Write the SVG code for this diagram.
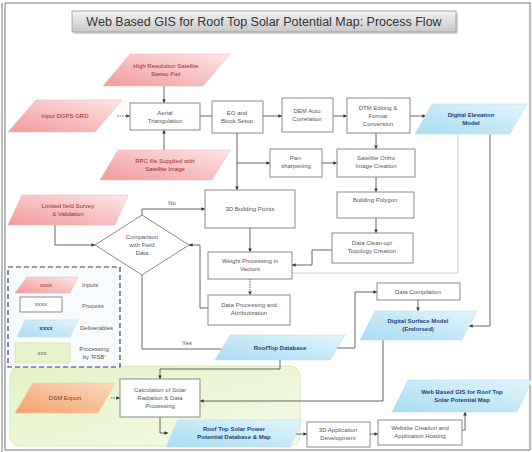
<svg xmlns="http://www.w3.org/2000/svg" width="532" height="452" viewBox="0 0 532 452">
<defs>
<linearGradient id="gPink" x1="0" y1="1" x2="1" y2="0"><stop offset="0" stop-color="#f09a9a"/><stop offset="1" stop-color="#fde6e6"/></linearGradient>
<linearGradient id="gBlue" x1="0" y1="1" x2="1" y2="0"><stop offset="0" stop-color="#a9dcf2"/><stop offset="1" stop-color="#e2f4fc"/></linearGradient>
<linearGradient id="gOrange" x1="0" y1="1" x2="1" y2="0"><stop offset="0" stop-color="#f3a26a"/><stop offset="1" stop-color="#fbd9c0"/></linearGradient>
<linearGradient id="gGreen" x1="0" y1="0" x2="1" y2="1"><stop offset="0" stop-color="#e4f2c6"/><stop offset="1" stop-color="#f4fae6"/></linearGradient>
<linearGradient id="gTitle" x1="0" y1="0" x2="0" y2="1"><stop offset="0" stop-color="#f2f2f2"/><stop offset="1" stop-color="#c8c8c8"/></linearGradient>
<marker id="arr" viewBox="0 0 6 6" refX="6" refY="3" markerWidth="4" markerHeight="4" orient="auto"><path d="M0,0 L6,3 L0,6 z" fill="#333"/></marker>
</defs>
<style>
text{font-family:"Liberation Sans",Arial,sans-serif;text-anchor:middle}
.box{fill:#fff;stroke:#8a8a8a;stroke-width:1}
.pink{fill:url(#gPink);stroke:#f2b8b8;stroke-width:0.6}
.blue{fill:url(#gBlue);stroke:#b5e0f3;stroke-width:0.6}
.orange{fill:url(#gOrange);stroke:#f6c4a0;stroke-width:0.6}
.t{font-size:6px;fill:#555}
.tp{font-size:6px;fill:#9b2b2b}
.tb{font-size:6px;fill:#1f3f7a;font-weight:bold}
.to{font-size:6px;fill:#8a3a10}
.c{fill:none;stroke:#555;stroke-width:0.9;marker-end:url(#arr)}
.cn{fill:none;stroke:#555;stroke-width:0.9}
.dot{stroke-dasharray:1.5,1}
.light{fill:none;stroke:#cfcfcf;stroke-width:0.9}
.lbl{font-size:6px;fill:#555;text-anchor:start}
</style>
<rect x="0" y="0" width="532" height="452" fill="#fff"/>
<rect x="5" y="3" width="525" height="447" fill="none" stroke="#777" stroke-width="1"/>
<line x1="2" y1="3" x2="2" y2="452" stroke="#777" stroke-width="1"/>

<g id="title">
<rect x="74" y="13" width="384" height="21" fill="#d8d8d8"/>
<rect x="72" y="11" width="384" height="21" fill="url(#gTitle)" stroke="#999" stroke-width="0.8"/>
<text x="264" y="25.5" style="font-size:12.5px;fill:#333">Web Based GIS for Roof Top Solar Potential Map: Process Flow</text>
</g>

<g id="green-area"><rect x="10" y="366" width="290" height="80" rx="10" fill="url(#gGreen)" stroke="#d6ebb4" stroke-width="1"/></g>

<g id="legend">
<rect x="8" y="267" width="112" height="100" fill="#f7fbfe" stroke="#2f3f6f" stroke-width="1.2" stroke-dasharray="5,3"/>
<polygon class="pink" points="27,277 78,277 70,293 15,293"/><text class="tp" x="46" y="287">xxxx</text>
<text class="lbl" x="82" y="287">Inputs</text>
<rect class="box" x="20" y="297" width="42" height="15"/><text class="t" x="41" y="306">xxxx</text>
<text class="lbl" x="82" y="308">Process</text>
<polygon class="blue" points="25,320 78,320 70,337 17,337"/><text class="tb" x="46" y="330">xxxx</text>
<text class="lbl" x="80" y="330">Deliverables</text>
<rect x="15" y="343" width="55" height="20" fill="#e6f3cc" stroke="#cfe6a8" stroke-width="0.8"/><text class="t" x="42" y="355">xxx</text>
<text class="t" x="94" y="351">Processing</text><text class="t" x="94" y="359">by 'RSB'</text>
</g>

<g id="connectors">
<path class="c" d="M164,86 V103"/>
<path class="c dot" d="M117,116 H130"/>
<path class="c" d="M164,150 V130"/>
<path class="cn" d="M200,116 H212"/>
<path class="c" d="M263,116 H282"/>
<path class="c" d="M333,116 H347"/>
<path class="c" d="M410,116 H426"/>
<path class="c" d="M376,133 V149"/>
<path class="c" d="M237,133 V190"/>
<path class="c" d="M237,163 H270"/>
<path class="c" d="M322,163 H337"/>
<path class="c" d="M376,177 V192"/>
<path class="c" d="M376,218 V233"/>
<path class="c" d="M332,250 H312 V265 H292"/>
<path class="c" d="M250,228 V252"/>
<path class="c dot" d="M250,279 V295"/>
<path class="c" d="M208,308 H200 V245 H189"/>
<path class="c" d="M142,215 V209 H205"/>
<path class="c" d="M55,225 V245 H95"/>
<path class="c" d="M142,275 V349 H226"/>
<path class="c" d="M337,348 H355 V292 H377"/>
<path class="c" d="M418,300 V311"/>
<path class="c" d="M490,134 V326 H469"/>
<path class="light" d="M458,134 V273 H292"/>
<path class="c" d="M383,340 V401 H200"/>
<path class="c" d="M280,360 V369 H160 V379"/>
<path class="c dot" d="M111,398 H120"/>
<path class="c" d="M160,417 V433 H168"/>
<path class="c" d="M295,434 H307"/>
<path class="c" d="M370,434 H378"/>
<path class="c" d="M462,430 H465 V412"/>
<text class="t" x="172" y="205">No</text>
<text class="t" x="187" y="345">Yes</text>
</g>

<g id="hires"><polygon class="pink" points="130,54 230,54 203,86 103,86"/><text class="tp" x="166" y="68">High Resolution Satellite</text><text class="tp" x="166" y="76">Stereo Pair</text></g>
<g id="dgps"><polygon class="pink" points="36,100 122,100 95,132 8,132"/><text class="tp" x="65" y="118">Input DGPS GRD</text></g>
<g id="aerial"><rect class="box" x="130" y="103" width="70" height="27"/><text class="t" x="165" y="115">Aerial</text><text class="t" x="165" y="123">Triangulation</text></g>
<g id="rpc"><polygon class="pink" points="118,150 230,150 212,180 100,180"/><text class="tp" x="165" y="163">RPC file Supplied with</text><text class="tp" x="165" y="171">Satellite Image</text></g>
<g id="eo"><rect class="box" x="212" y="101" width="51" height="32"/><text class="t" x="237" y="115">EO and</text><text class="t" x="237" y="123">Block Setup</text></g>
<g id="dem-auto"><rect class="box" x="282" y="98" width="51" height="34"/><text class="t" x="307" y="113">DEM Auto</text><text class="t" x="307" y="121">Correlation</text></g>
<g id="dtm"><rect class="box" x="347" y="98" width="63" height="35"/><text class="t" x="378" y="110">DTM Editing &amp;</text><text class="t" x="378" y="118">Format</text><text class="t" x="378" y="126">Conversion</text></g>
<g id="dem"><polygon class="blue" points="432,104 527,104 510,134 415,134"/><text class="tb" x="471" y="117">Digital Elevation</text><text class="tb" x="471" y="125">Model</text></g>
<g id="pansharp"><rect class="box" x="270" y="149" width="52" height="28"/><text class="t" x="296" y="160">Pan-</text><text class="t" x="296" y="168">sharpening</text></g>
<g id="ortho"><rect class="box" x="337" y="149" width="78" height="28"/><text class="t" x="376" y="160">Satellite Ortho</text><text class="t" x="376" y="168">Image Creation</text></g>
<g id="bpoly"><rect class="box" x="337" y="192" width="77" height="26"/><text class="t" x="375" y="202">Building Polygon</text></g>
<g id="cleanup"><rect class="box" x="332" y="233" width="81" height="30"/><text class="t" x="372" y="245">Data Clean-up/</text><text class="t" x="372" y="253">Topology Creation</text></g>
<g id="bpoints"><rect class="box" x="205" y="190" width="90" height="38"/><text class="t" x="250" y="211">3D Building Points</text></g>
<g id="weight"><rect class="box" x="208" y="252" width="84" height="27"/><text class="t" x="250" y="263">Weight Processing in</text><text class="t" x="250" y="271">Vectors</text></g>
<g id="dataproc"><rect class="box" x="208" y="295" width="82" height="30"/><text class="t" x="249" y="307">Data Processing and</text><text class="t" x="249" y="315">Attributization</text></g>
<g id="compare"><polygon points="142,215 189,245 142,275 95,245" fill="#fff" stroke="#8a8a8a" stroke-width="1"/><text class="t" x="142" y="239">Comparison</text><text class="t" x="142" y="247">with Field</text><text class="t" x="142" y="255">Data</text></g>
<g id="survey"><polygon class="pink" points="22,195 128,195 115,225 8,225"/><text class="tp" x="68" y="208">Limited field Survey</text><text class="tp" x="68" y="216">&amp; Validation</text></g>
<g id="compilation"><rect class="box" x="377" y="283" width="83" height="17"/><text class="t" x="418" y="294">Data Compilation</text></g>
<g id="dsm"><polygon class="blue" points="375,311 477,311 462,340 360,340"/><text class="tb" x="418" y="323">Digital Surface Model</text><text class="tb" x="418" y="331">(Endorsed)</text></g>
<g id="rooftopdb"><polygon class="blue" points="230,335 345,335 330,360 215,360"/><text class="tb" x="280" y="350">RoofTop Database</text></g>
<g id="dsmexport"><polygon class="orange" points="33,383 115,383 98,413 15,413"/><text class="to" x="65" y="400">DSM Export</text></g>
<g id="calc"><rect class="box" x="120" y="379" width="80" height="38"/><text class="t" x="160" y="392">Calculation of Solar</text><text class="t" x="160" y="400">Radiation &amp; Data</text><text class="t" x="160" y="408">Processing</text></g>
<g id="solarmap"><polygon class="blue" points="178,420 302,420 290,447 166,447"/><text class="tb" x="234" y="431">Roof Top Solar Power</text><text class="tb" x="234" y="439">Potential Database &amp; Map</text></g>
<g id="app3d"><rect class="box" x="307" y="422" width="63" height="25"/><text class="t" x="338" y="432">3D Application</text><text class="t" x="338" y="440">Development</text></g>
<g id="website"><rect class="box" x="378" y="420" width="84" height="25"/><text class="t" x="420" y="430">Website Creation and</text><text class="t" x="420" y="438">Application Hosting</text></g>
<g id="webgis"><polygon class="blue" points="408,380 532,380 517,412 392,412"/><text class="tb" x="462" y="394">Web Based GIS for Roof Top</text><text class="tb" x="462" y="402">Solar Potential Map</text></g>
</svg>
